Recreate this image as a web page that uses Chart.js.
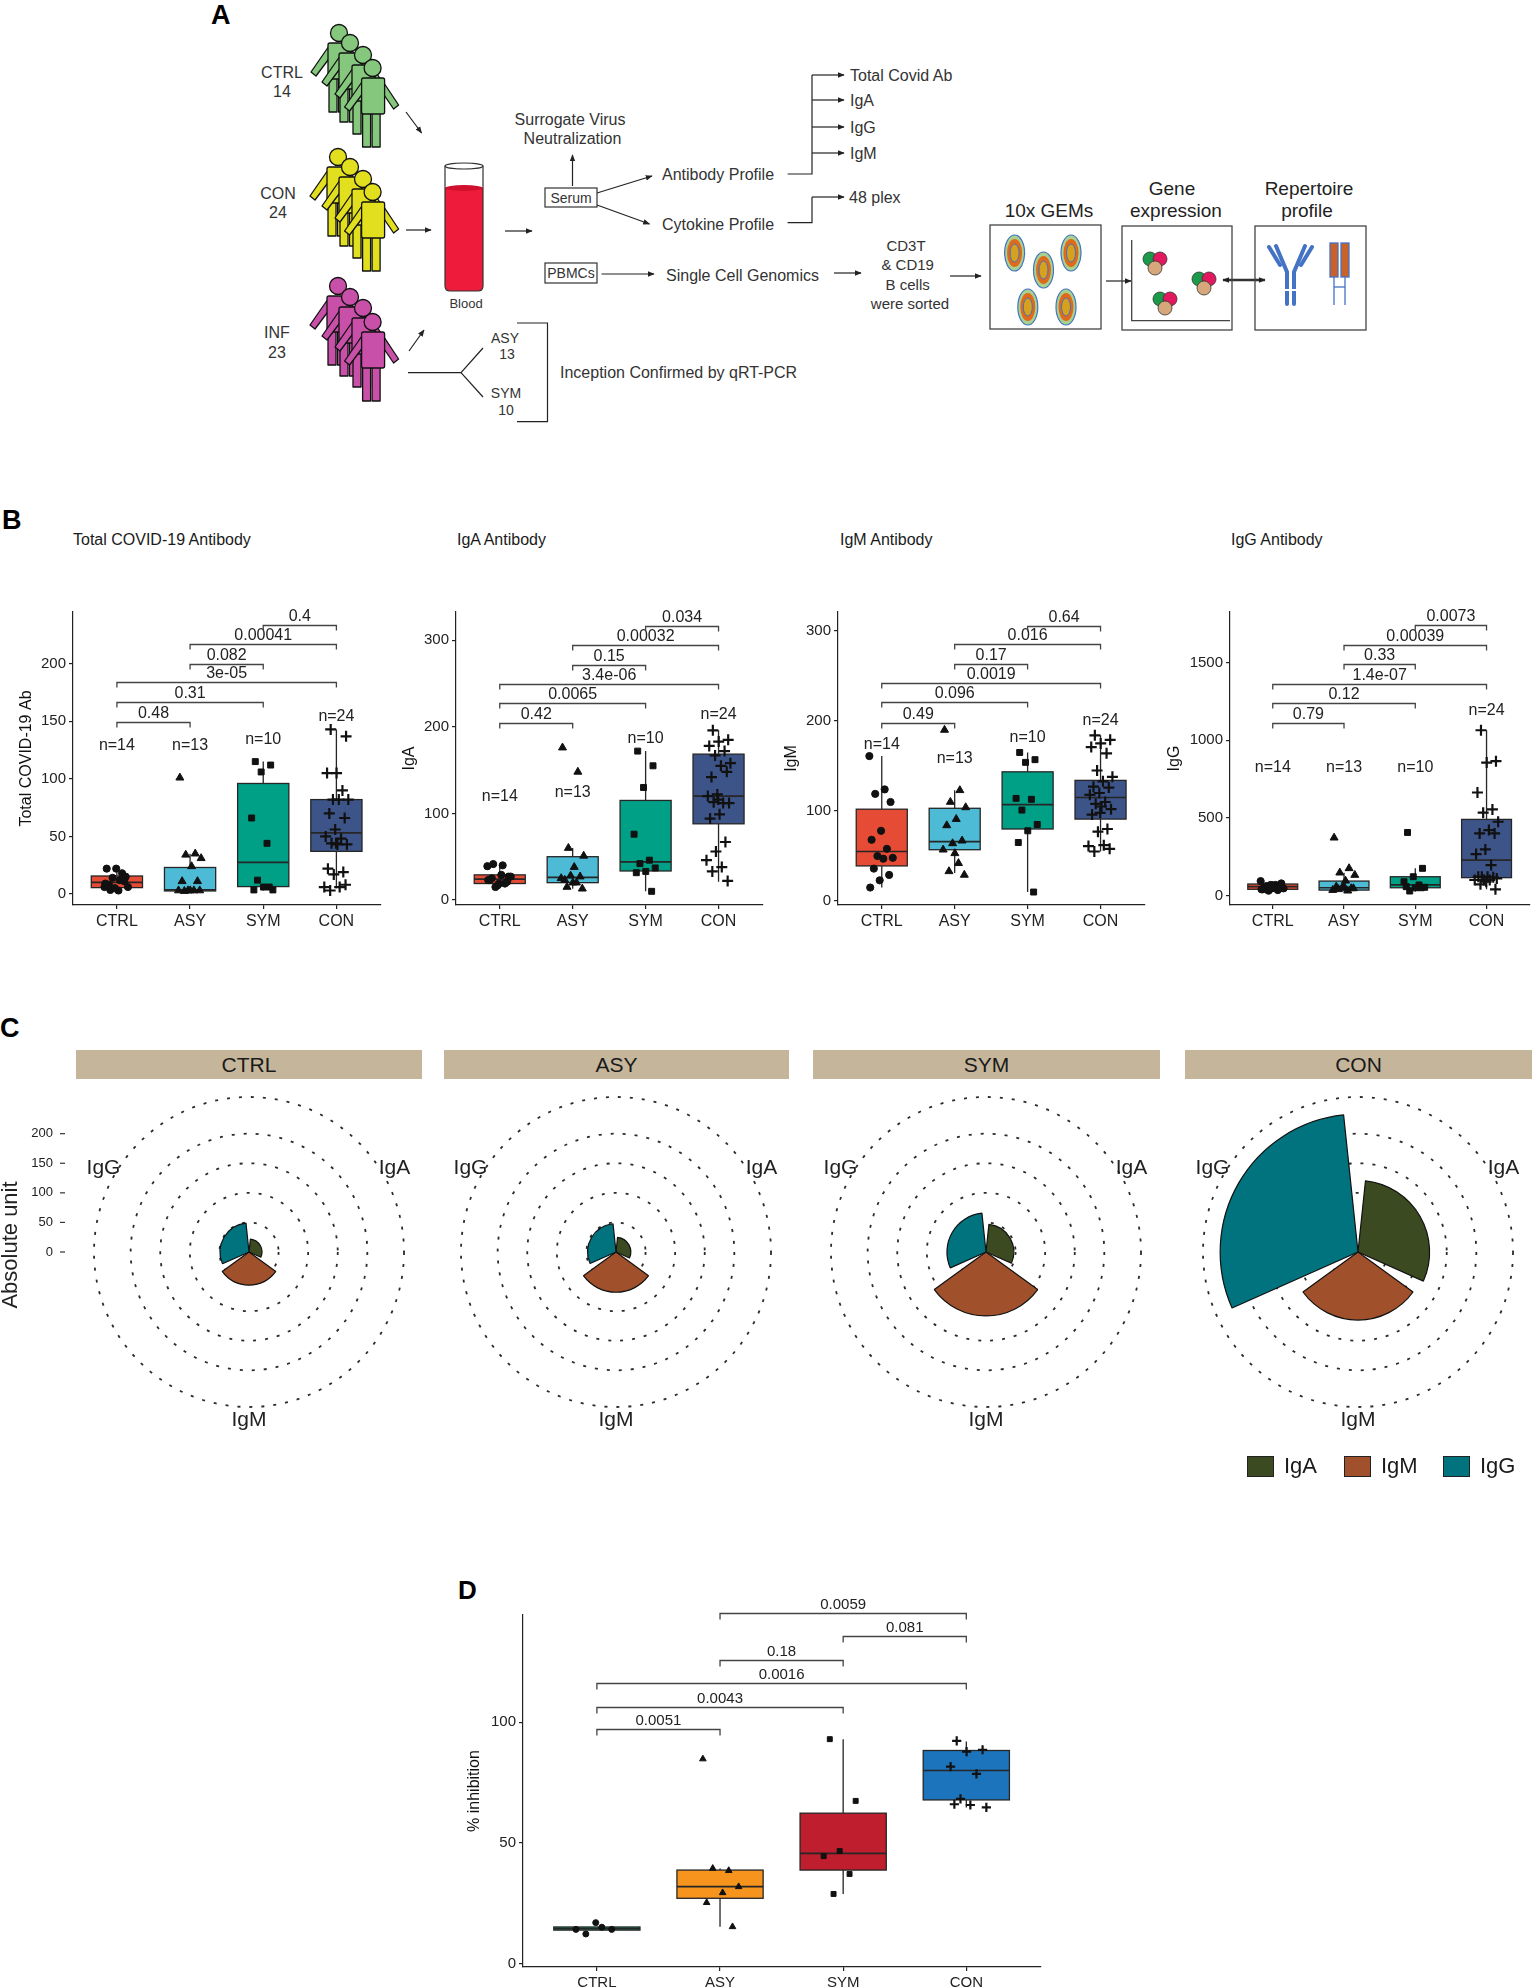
<!DOCTYPE html>
<html>
<head>
<meta charset="utf-8">
<title>Antibody profiles</title>
<script src="https://cdn.jsdelivr.net/npm/chart.js@4.4.1/dist/chart.umd.min.js"></script>
<style>
  html, body { margin: 0; padding: 0; background: #fff; }
  #page { position: relative; width: 1536px; height: 1988px; overflow: hidden;
          font-family: "Liberation Sans", Arial, sans-serif; color: #1a1a1a; }
  .abs { position: absolute; }
  canvas { position: absolute; }
  .letter { position: absolute; font-weight: bold; font-size: 27px; line-height: 27px; color: #000; }
  .sub { position: absolute; top: 532px; font-size: 16px; line-height: 16px; white-space: nowrap; }
  .strip { position: absolute; top: 1050px; height: 29px; background: #c5b69b;
           font-size: 21px; line-height: 30px; text-align: center; color: #1a1a1a; }
  .key { position: absolute; top: 1456px; width: 25px; height: 19px; border: 1.2px solid #222; }
  .keytxt { position: absolute; top: 1453px; font-size: 22px; line-height: 26px; color: #1a1a1a; }
</style>
</head>
<body>
<div id="page">

<!-- panel A: study schematic -->
<svg class="abs" style="left:0;top:0" width="1536" height="440" font-family="Liberation Sans, Arial, sans-serif" fill="#2a2a2a">
  <defs>
    <marker id="ah" viewBox="0 0 10 10" refX="9" refY="5" markerWidth="7" markerHeight="7"
            orient="auto-start-reverse" markerUnits="userSpaceOnUse">
      <path d="M0,1 L10,5 L0,9 z" fill="#222"/>
    </marker>
    <g id="person" stroke="#111" stroke-width="1.3" stroke-linejoin="round">
      <path d="M-9,13 L-27,39 L-22,43 L-4,19 Z"/>
      <path d="M11,13 L27,37 L22,41 L7,19 Z"/>
      <rect x="-9" y="44" width="8" height="35"/>
      <rect x="0.5" y="44" width="8" height="35"/>
      <rect x="-10" y="10" width="23" height="36" rx="2"/>
      <circle cx="1" cy="0" r="8.5"/>
    </g>
    <g id="gem">
      <ellipse rx="10" ry="18" fill="#a9d18e" stroke="#4472c4" stroke-width="1.2"/>
      <ellipse rx="7.5" ry="14" fill="#df6a1c"/>
      <ellipse rx="4.5" ry="9" fill="#d6a21e" stroke="#4472c4" stroke-width="1"/>
    </g>
    <g id="cells" stroke="#333" stroke-width="0.8">
      <circle cx="-5" cy="-4" r="7" fill="#1c9a4b"/>
      <circle cx="5" cy="-4" r="7" fill="#e3195f"/>
      <circle cx="0" cy="5" r="7" fill="#d6a77a"/>
    </g>
  </defs>

  <g fill="#85c77c">
    <use href="#person" x="338" y="33"/><use href="#person" x="349" y="43"/>
    <use href="#person" x="362" y="55"/><use href="#person" x="371.6" y="68"/>
  </g>
  <g fill="#e2df1f">
    <use href="#person" x="337" y="157"/><use href="#person" x="349" y="167"/>
    <use href="#person" x="362" y="179"/><use href="#person" x="371.6" y="192"/>
  </g>
  <g fill="#c850a8">
    <use href="#person" x="337" y="286"/><use href="#person" x="349" y="297"/>
    <use href="#person" x="362" y="308"/><use href="#person" x="371.6" y="322"/>
  </g>

  <g font-size="16" text-anchor="middle" dominant-baseline="central" fill="#333">
    <text x="282" y="72">CTRL</text><text x="282" y="91">14</text>
    <text x="278" y="193">CON</text><text x="278" y="212">24</text>
    <text x="277" y="332">INF</text><text x="277" y="352">23</text>
  </g>

  <g stroke="#222" stroke-width="1.2" fill="none" marker-end="url(#ah)">
    <line x1="406" y1="112" x2="421.6" y2="133"/>
    <line x1="406" y1="230" x2="431" y2="230"/>
    <line x1="409" y1="351" x2="424" y2="330"/>
    <line x1="505" y1="231" x2="532" y2="231"/>
    <line x1="572.5" y1="186" x2="572.5" y2="155"/>
    <line x1="597" y1="193" x2="652" y2="176"/>
    <line x1="597" y1="205" x2="649.5" y2="224"/>
    <line x1="601.5" y1="274" x2="654" y2="274"/>
    <line x1="812" y1="75" x2="844" y2="75"/>
    <line x1="812" y1="100" x2="844" y2="100"/>
    <line x1="812" y1="127" x2="844" y2="127"/>
    <line x1="812" y1="153" x2="844" y2="153"/>
    <line x1="812" y1="197" x2="844" y2="197"/>
    <line x1="834" y1="273" x2="861" y2="273"/>
    <line x1="950" y1="276" x2="981" y2="276"/>
    <line x1="1106" y1="281" x2="1131" y2="281"/>
  </g>
  <line x1="1223" y1="280" x2="1265" y2="280" stroke="#333" stroke-width="2.5"
        marker-start="url(#ah)" marker-end="url(#ah)"/>

  <!-- blood tube -->
  <path d="M445,188 L445,286 Q445,291 450,291 L478,291 Q483,291 483,286 L483,188 Z" fill="#ee1c3a"/>
  <ellipse cx="464" cy="188" rx="19" ry="3" fill="#d0102c"/>
  <path d="M445,166 L445,286 Q445,291 450,291 L478,291 Q483,291 483,286 L483,166" fill="none" stroke="#333" stroke-width="1.2"/>
  <ellipse cx="464" cy="166" rx="19" ry="3" fill="#fff" stroke="#333" stroke-width="1.2"/>
  <text x="466" y="303" font-size="13" text-anchor="middle" dominant-baseline="central" fill="#333">Blood</text>

  <rect x="545" y="188" width="52" height="19" fill="none" stroke="#333" stroke-width="1.2"/>
  <rect x="545" y="263" width="52" height="20" fill="none" stroke="#333" stroke-width="1.2"/>
  <g font-size="14" text-anchor="middle" dominant-baseline="central" fill="#333">
    <text x="571" y="197.5">Serum</text><text x="571" y="273">PBMCs</text>
  </g>

  <g font-size="16" dominant-baseline="central" fill="#333">
    <text x="570" y="119" text-anchor="middle">Surrogate Virus</text>
    <text x="572.5" y="138" text-anchor="middle">Neutralization</text>
    <text x="662" y="174">Antibody Profile</text>
    <text x="662" y="224">Cytokine Profile</text>
    <text x="666" y="275">Single Cell Genomics</text>
    <text x="850" y="75">Total Covid Ab</text>
    <text x="850" y="100">IgA</text>
    <text x="850" y="127">IgG</text>
    <text x="850" y="153">IgM</text>
    <text x="849" y="197">48 plex</text>
    <text x="560" y="372.7">Inception Confirmed by qRT-PCR</text>
  </g>
  <g font-size="15" text-anchor="middle" dominant-baseline="central" fill="#333">
    <text x="906" y="245">CD3T</text><text x="907.7" y="264">&amp; CD19</text>
    <text x="907.7" y="284">B cells</text><text x="910" y="303">were sorted</text>
  </g>
  <g fill="none" stroke="#222" stroke-width="1.2">
    <polyline points="787.6,174 812,174 812,75"/>
    <polyline points="787.6,222.7 812,222.7 812,197"/>
    <polyline points="408,372.7 461,372.7 483,348"/>
    <line x1="461" y1="372.7" x2="483" y2="397"/>
    <polyline points="517,323 547.5,323 547.5,421.7 517,421.7"/>
  </g>
  <g font-size="14" text-anchor="middle" dominant-baseline="central" fill="#333">
    <text x="505" y="338">ASY</text><text x="507" y="354">13</text>
    <text x="506" y="393">SYM</text><text x="506" y="410">10</text>
  </g>

  <!-- single cell boxes -->
  <g fill="none" stroke="#444" stroke-width="1.3">
    <rect x="990" y="225" width="111" height="104"/>
    <rect x="1122" y="226" width="110" height="104"/>
    <rect x="1255" y="226" width="111" height="104"/>
    <polyline points="1131.7,240 1131.7,320.7 1230,320.7"/>
  </g>
  <g font-size="19" text-anchor="middle" dominant-baseline="central" fill="#222">
    <text x="1049" y="210">10x GEMs</text>
    <text x="1172" y="188">Gene</text><text x="1176" y="210">expression</text>
    <text x="1309" y="188">Repertoire</text><text x="1307" y="210">profile</text>
  </g>
  <use href="#gem" x="1014.6" y="253"/><use href="#gem" x="1043.5" y="270"/>
  <use href="#gem" x="1071" y="253"/><use href="#gem" x="1027.8" y="307"/>
  <use href="#gem" x="1066" y="307"/>
  <use href="#cells" x="1155" y="263"/><use href="#cells" x="1204" y="283"/>
  <use href="#cells" x="1165" y="303"/>
  <g stroke="#4472c4" stroke-width="4" fill="none" stroke-linecap="round">
    <polyline points="1287,304 1287,272 1276,246"/>
    <polyline points="1294,304 1294,272 1305,246"/>
    <line x1="1280" y1="265" x2="1269" y2="247"/>
    <line x1="1301" y1="265" x2="1312" y2="247"/>
  </g>
  <line x1="1282" y1="290" x2="1299" y2="290" stroke="#fff" stroke-width="2"/>
  <g stroke="#4472c4" stroke-width="1.3">
    <rect x="1330" y="243" width="8" height="34" fill="#c9622a"/>
    <rect x="1341" y="243" width="8" height="34" fill="#c9622a"/>
    <line x1="1334" y1="277" x2="1334" y2="305"/>
    <line x1="1345" y1="277" x2="1345" y2="305"/>
    <line x1="1334" y1="287" x2="1345" y2="287"/>
  </g>
</svg>

<div class="letter" style="left:211px;top:2px">A</div>
<div class="letter" style="left:2px;top:507px">B</div>
<div class="letter" style="left:0px;top:1015px">C</div>
<div class="letter" style="left:458px;top:1577px;font-size:26px">D</div>

<div class="sub" style="left:73px">Total COVID-19 Antibody</div>
<div class="sub" style="left:457px">IgA Antibody</div>
<div class="sub" style="left:840px">IgM Antibody</div>
<div class="sub" style="left:1231px">IgG Antibody</div>

<canvas id="bTotal" width="385" height="343" style="left:3px;top:592px"></canvas>
<canvas id="bIgA" width="384" height="343" style="left:386px;top:592px"></canvas>
<canvas id="bIgM" width="384" height="343" style="left:768px;top:592px"></canvas>
<canvas id="bIgG" width="386" height="343" style="left:1151px;top:592px"></canvas>

<div class="strip" style="left:76px;width:346px">CTRL</div>
<div class="strip" style="left:444px;width:345px">ASY</div>
<div class="strip" style="left:813px;width:347px">SYM</div>
<div class="strip" style="left:1185px;width:347px">CON</div>

<canvas id="cCtrl" width="450" height="390" style="left:-6px;top:1057px"></canvas>
<canvas id="cAsy" width="390" height="390" style="left:421px;top:1057px"></canvas>
<canvas id="cSym" width="390" height="390" style="left:791px;top:1057px"></canvas>
<canvas id="cCon" width="390" height="390" style="left:1163px;top:1057px"></canvas>

<div class="key" style="left:1247px;background:#3b4a21"></div><div class="keytxt" style="left:1284px">IgA</div>
<div class="key" style="left:1344px;background:#a0502b"></div><div class="keytxt" style="left:1381px">IgM</div>
<div class="key" style="left:1443px;background:#00737f"></div><div class="keytxt" style="left:1480px">IgG</div>

<canvas id="dInh" width="594" height="412" style="left:453px;top:1585px"></canvas>

</div>

<script>
// groups, palettes
const groups = ['CTRL', 'ASY', 'SYM', 'CON'];
const npgColors = ['#E64B35', '#4DBBD5', '#00A087', '#3C5488'];
const inhColors = ['#14a07e', '#f7941d', '#be1e2d', '#1c75bc'];
const pointShapes = ['circle', 'triangle', 'rect', 'cross'];
const bPairs = [[1, 2], [1, 3], [1, 4], [2, 3], [2, 4], [3, 4]];
const dPairs = [[1, 2], [1, 3], [1, 4], [2, 3], [3, 4], [2, 4]];

// box stats are [lower whisker, Q1, median, Q3, upper whisker]

// Total COVID-19 antibody
const totalCtrl = [6, 12, 3.5, 15, 22, 22, 18, 14, 6, 3, 8, 11, 5, 9];
const totalAsy = [101, 35, 34, 31, 24, 11, 11, 3, 3, 3, 2.5, 3, 3];
const totalSym = [115, 112, 106, 66, 44, 12, 3.5, 6, 3.5, 6];
const totalCon = [143, 137, 105, 105, 90, 82, 82, 82, 70, 66, 56, 50, 48, 44, 43, 43, 22, 19, 17, 6, 6, 3, 8, 44];
const totalBox = [[2, 5.5, 10, 15.6, 22], [2.5, 2.6, 3.5, 23, 35], [3, 6.4, 27.5, 96, 115], [5, 37, 53, 82, 143]];
const totalP = ['0.48', '0.31', '3e-05', '0.082', '0.00041', '0.4'];
const totalPLevels = [149, 167, 184, 200, 217, 234];
const totalNLevels = [129, 129, 134, 154];
const totalTicks = [0, 50, 100, 150, 200];

// IgA
const igaCtrl = [39, 40, 41.5, 27, 19, 23, 19, 15, 27, 29, 25, 21, 17, 23];
const igaAsy = [176, 148, 60, 51, 38, 23, 27, 28, 25, 20, 15, 13, 20];
const igaSym = [172, 155, 130, 76, 46, 42, 37, 33, 31.5, 10];
const igaCon = [196, 185, 183, 178, 172, 167, 158, 155, 142, 148, 122, 120, 112, 113, 112, 99, 94, 67, 56, 46, 38, 33, 22, 116];
const igaBox = [[15, 19, 24, 29, 41.5], [13, 20, 26, 50, 60], [10, 33.5, 44, 115, 172], [21, 88, 120, 168.5, 196]];
const igaP = ['0.42', '0.0065', '3.4e-06', '0.15', '0.00032', '0.034'];
const igaPLevels = [205, 228, 250, 272, 295, 317];
const igaNLevels = [120, 124, 187, 214];
const igaTicks = [0, 100, 200, 300];

// IgM
const igmCtrl = [161, 124, 119, 110, 78, 68, 58, 50, 48, 47, 36, 29, 23, 15];
const igmAsy = [190, 123, 110, 104, 91, 84, 67, 64, 57, 42, 33, 29, 53];
const igmSym = [165, 157, 154, 114, 113, 101, 85, 78, 65, 10];
const igmCon = [184, 179, 175, 171, 164, 145, 138, 133, 127, 126, 120, 118, 110, 108, 102, 105, 96, 80, 77, 61, 62, 55, 58, 98];
const igmBox = [[15, 39, 55, 102, 161], [31, 57, 66, 103, 123], [10, 80, 107, 143.5, 165], [55, 91, 115, 134, 184]];
const igmP = ['0.49', '0.096', '0.0019', '0.17', '0.016', '0.64'];
const igmPLevels = [198, 220.5, 241.6, 263, 285, 306];
const igmNLevels = [174, 158, 181, 200];
const igmTicks = [0, 100, 200, 300];

// IgG
const iggCtrl = [94, 69, 62, 79, 47, 41, 36, 32, 47, 54, 54, 58, 69, 41];
const iggAsy = [373, 176, 148, 133, 96, 58, 47, 51, 36, 32, 41, 47, 58];
const iggSym = [407, 176, 122, 90, 69, 30, 54, 51, 58, 51];
const iggCon = [1065, 866, 857, 664, 555, 534, 476, 422, 401, 401, 298, 268, 197, 122, 111, 122, 122, 118, 101, 101, 101, 73, 41, 90];
const iggBox = [[25, 41, 58, 75, 94], [26, 36, 51, 94, 148], [26, 51, 69, 122, 176], [41, 116, 229, 491, 1065]];
const iggP = ['0.79', '0.12', '1.4e-07', '0.33', '0.00039', '0.0073'];
const iggPLevels = [1114, 1243, 1365, 1489, 1616, 1740];
const iggNLevels = [825, 825, 825, 1189];
const iggTicks = [0, 500, 1000, 1500];

// mean absolute units per class: IgA, IgM, IgG
const igClasses = ['IgA', 'IgM', 'IgG'];
const igColors = ['#3b4a21', '#a0502b', '#00737f'];
const polarCtrl = [22, 56, 49];
const polarAsy = [25, 68, 48];
const polarSym = [47, 108, 66];
const polarCon = [121, 115, 233];
const polarTicks = [0, 50, 100, 150, 200];
const polarMax = 262;

// surrogate virus neutralization, % inhibition
const inhCtrl = [14.1, 15, 12.2, 14.1, 16.9];
const inhAsy = [84.8, 38.5, 39.4, 31.8, 29.3, 25.2, 15.2];
const inhSym = [93, 67.4, 46.6, 44.5, 37.1, 28.8];
const inhCon = [92.3, 88.6, 87.8, 81.6, 78.6, 68.2, 64.7, 65.7, 66];
const inhBox = [[13.8, 13.8, 14.4, 15.1, 15.1], [15.2, 27, 31.8, 38.7, 39.4], [28.8, 38.7, 45.6, 62.3, 93], [64.7, 67.8, 80, 88.3, 92]];
const inhP = ['0.0051', '0.0043', '0.0016', '0.18', '0.081', '0.0059'];
const inhPLevels = [97.2, 106.5, 116.2, 125.9, 135.6, 145.5];
const inhTicks = [0, 50, 100];

const FONT = '"Liberation Sans", Arial, sans-serif';
Chart.defaults.font.family = FONT;
Chart.defaults.color = '#222';

const boxWidth = 0.7;
const barWidth = 0.9;

// spread points sideways the way geom_jitter does, but repeatable
function jitter(k) {
  return (((k * 0.6180339) % 1) - 0.5) * 0.34;
}

function boxPlugin(cfg) {
  return {
    id: 'boxes',
    beforeDatasetsDraw(chart) {
      const {ctx, scales: {x, y}} = chart;
      cfg.box.forEach((s, g) => {
        const cx = x.getPixelForValue(g + 1);
        const half = x.getPixelForValue(g + 1 + boxWidth / 2) - cx;
        const [lo, q1, med, q3, hi] = s.map(v => y.getPixelForValue(v));
        ctx.save();
        ctx.strokeStyle = '#262626';
        ctx.lineWidth = 1.3;
        ctx.beginPath();
        ctx.moveTo(cx, q3); ctx.lineTo(cx, hi);
        ctx.moveTo(cx, q1); ctx.lineTo(cx, lo);
        ctx.stroke();
        ctx.fillStyle = cfg.colors[g];
        ctx.fillRect(cx - half, q3, half * 2, q1 - q3);
        ctx.strokeRect(cx - half, q3, half * 2, q1 - q3);
        ctx.lineWidth = 1.7;
        ctx.beginPath();
        ctx.moveTo(cx - half, med); ctx.lineTo(cx + half, med);
        ctx.stroke();
        ctx.restore();
      });
    },
    afterDatasetsDraw(chart) {
      const {ctx, scales: {x, y}} = chart;
      ctx.save();
      ctx.fillStyle = '#222';
      ctx.font = cfg.textSize + 'px ' + FONT;
      ctx.textAlign = 'center';
      ctx.textBaseline = 'middle';
      if (cfg.nLevels) {
        cfg.series.forEach((vals, g) => {
          ctx.fillText('n=' + vals.length, x.getPixelForValue(g + 1), y.getPixelForValue(cfg.nLevels[g]));
        });
      }
      ctx.strokeStyle = '#444';
      ctx.lineWidth = 1.3;
      cfg.pairs.forEach(([a, b], k) => {
        const x1 = x.getPixelForValue(a);
        const x2 = x.getPixelForValue(b);
        const yy = Math.round(y.getPixelForValue(cfg.pLevels[k])) + 0.5;
        ctx.beginPath();
        ctx.moveTo(x1, yy + cfg.tip); ctx.lineTo(x1, yy); ctx.lineTo(x2, yy); ctx.lineTo(x2, yy + cfg.tip);
        ctx.stroke();
        ctx.fillText(cfg.pLabels[k], (x1 + x2) / 2, yy - 9);
      });
      ctx.restore();
    }
  };
}

function boxChart(id, cfg) {
  const datasets = cfg.series.map((vals, g) => ({
    data: vals.map((v, k) => ({x: g + 1 + jitter(k + g * 5), y: v})),
    pointStyle: pointShapes[g],
    pointRadius: cfg.pointSize[g],
    backgroundColor: '#111',
    borderColor: '#111',
    borderWidth: g === 3 ? 2.2 : 1
  }));
  const axisLine = {display: true, color: '#222', width: 1.2};
  const tickMarks = {display: true, drawOnChartArea: false, drawTicks: true, tickLength: 4, color: '#222', lineWidth: 1.2};
  return new Chart(document.getElementById(id), {
    type: 'scatter',
    data: {datasets},
    options: {
      responsive: false,
      animation: false,
      events: [],
      layout: {padding: {top: cfg.padTop, right: 0, bottom: 0, left: 0}},
      plugins: {legend: {display: false}, tooltip: {enabled: false}},
      scales: {
        x: {
          type: 'linear', min: 0.4, max: 4.6,
          afterBuildTicks: s => { s.ticks = groups.map((_, i) => ({value: i + 1})); },
          afterFit: s => { s.height = 30; },
          ticks: {callback: v => groups[v - 1], color: '#222', font: {size: cfg.xSize}, padding: 3, autoSkip: false, maxRotation: 0},
          grid: tickMarks,
          border: axisLine
        },
        y: {
          min: cfg.yMin, max: cfg.yMax,
          afterBuildTicks: s => { s.ticks = cfg.ticks.map(v => ({value: v})); },
          afterFit: s => { s.width = cfg.yWidth; },
          ticks: {callback: v => String(v), color: '#222', font: {size: 15}, padding: 3},
          grid: tickMarks,
          border: axisLine,
          title: {display: true, text: cfg.yTitle, color: '#111', font: {size: 16}, padding: {top: cfg.titlePad, bottom: 0}}
        }
      }
    },
    plugins: [boxPlugin(cfg)]
  });
}

const bCommon = {pairs: bPairs, colors: npgColors, pointSize: [3.6, 4.6, 4.2, 5.5], padTop: 20,
                 xSize: 16, textSize: 16, tip: 5, titlePad: 14.4};

boxChart('bTotal', Object.assign({}, bCommon, {
  series: [totalCtrl, totalAsy, totalSym, totalCon], box: totalBox,
  pLabels: totalP, pLevels: totalPLevels, nLevels: totalNLevels,
  ticks: totalTicks, yMin: -9.6, yMax: 245, yWidth: 70, yTitle: 'Total COVID-19 Ab'
}));
boxChart('bIgA', Object.assign({}, bCommon, {
  series: [igaCtrl, igaAsy, igaSym, igaCon], box: igaBox,
  pLabels: igaP, pLevels: igaPLevels, nLevels: igaNLevels,
  ticks: igaTicks, yMin: -5.8, yMax: 332.7, yWidth: 70, yTitle: 'IgA'
}));
boxChart('bIgM', Object.assign({}, bCommon, {
  series: [igmCtrl, igmAsy, igmSym, igmCon], box: igmBox,
  pLabels: igmP, pLevels: igmPLevels, nLevels: igmNLevels,
  ticks: igmTicks, yMin: -4.4, yMax: 321, yWidth: 70, yTitle: 'IgM'
}));
boxChart('bIgG', Object.assign({}, bCommon, {
  series: [iggCtrl, iggAsy, iggSym, iggCon], box: iggBox,
  pLabels: iggP, pLevels: iggPLevels, nLevels: iggNLevels,
  ticks: iggTicks, yMin: -60, yMax: 1826, yWidth: 79, yTitle: 'IgG'
}));

boxChart('dInh', {
  series: [inhCtrl, inhAsy, inhSym, inhCon], box: inhBox, colors: inhColors,
  pairs: dPairs, pLabels: inhP, pLevels: inhPLevels, nLevels: null,
  pointSize: [3, 3.8, 3.5, 4.6], padTop: 30, xSize: 15, textSize: 15, tip: 6, titlePad: 11.6,
  ticks: inhTicks, yMin: -1.5, yMax: 144.5, yWidth: 70, yTitle: '% inhibition'
});

// bars in coord_polar do not fill the whole sector: trim each arc to 90%
const narrowArcs = {
  id: 'narrowArcs',
  afterDatasetsUpdate(chart) {
    chart.getDatasetMeta(0).data.forEach(arc => {
      const pad = (arc.endAngle - arc.startAngle) * (1 - barWidth) / 2;
      arc.startAngle += pad;
      arc.endAngle -= pad;
      if (arc.circumference !== undefined) arc.circumference = arc.endAngle - arc.startAngle;
    });
  }
};

function polarText(showAxis) {
  return {
    id: 'polarText',
    afterDraw(chart) {
      const {ctx} = chart;
      const r = chart.scales.r;
      const n = chart.data.labels.length;
      ctx.save();
      ctx.fillStyle = '#222';
      ctx.textAlign = 'center';
      ctx.textBaseline = 'middle';
      ctx.font = '21px ' + FONT;
      chart.data.labels.forEach((lab, i) => {
        const a = (i + 0.5) * 2 * Math.PI / n;
        const d = r.drawingArea + 13;
        ctx.fillText(lab, r.xCenter + Math.sin(a) * d, r.yCenter - Math.cos(a) * d);
      });
      if (showAxis) {
        const left = chart.chartArea.left;
        ctx.font = '13px ' + FONT;
        ctx.textAlign = 'right';
        ctx.strokeStyle = '#333';
        ctx.lineWidth = 1.2;
        polarTicks.forEach(v => {
          const yy = r.yCenter - r.getDistanceFromCenterForValue(v);
          ctx.fillText(String(v), left - 41, yy);
          ctx.beginPath(); ctx.moveTo(left - 34, yy); ctx.lineTo(left - 29, yy); ctx.stroke();
        });
        ctx.translate(left - 83, r.yCenter - 7);
        ctx.rotate(-Math.PI / 2);
        ctx.textAlign = 'center';
        ctx.font = '22px ' + FONT;
        ctx.fillText('Absolute unit', 0, 0);
      }
      ctx.restore();
    }
  };
}

function polarChart(id, values, showAxis) {
  return new Chart(document.getElementById(id), {
    type: 'polarArea',
    data: {
      labels: igClasses,
      datasets: [{data: values, backgroundColor: igColors, borderColor: '#111', borderWidth: 1.2}]
    },
    options: {
      responsive: false,
      animation: false,
      events: [],
      layout: {padding: showAxis ? {left: 100, right: 40, top: 40, bottom: 40} : 40},
      plugins: {legend: {display: false}, tooltip: {enabled: false}},
      scales: {
        r: {
          min: 0, max: polarMax, startAngle: 0,
          afterBuildTicks: s => { s.ticks = polarTicks.concat([polarMax]).map(v => ({value: v})); },
          ticks: {display: false},
          angleLines: {display: false},
          pointLabels: {display: false},
          grid: {circular: true, color: '#2b2b2b', lineWidth: 1.8},
          border: {dash: [3, 9]}
        }
      }
    },
    plugins: [narrowArcs, polarText(showAxis)]
  });
}

polarChart('cCtrl', polarCtrl, true);
polarChart('cAsy', polarAsy, false);
polarChart('cSym', polarSym, false);
polarChart('cCon', polarCon, false);
</script>
</body>
</html>
